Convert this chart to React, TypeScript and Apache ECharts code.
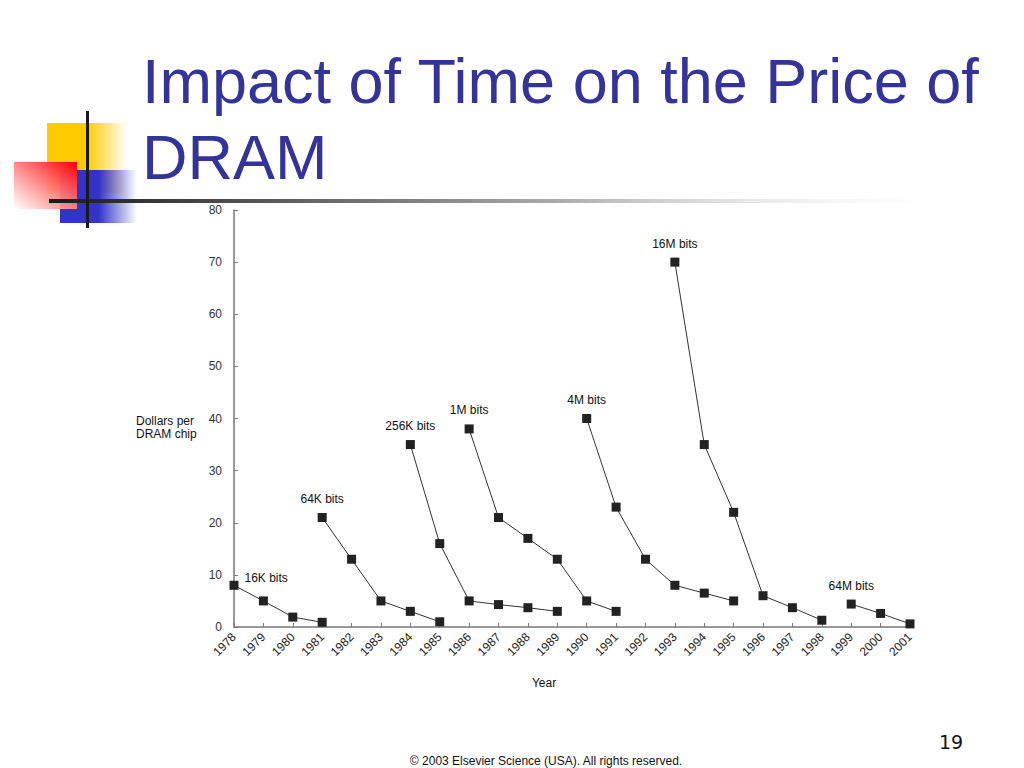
import React, { useEffect, useRef } from "react";
import * as echarts from "echarts";

const years16K = [1978, 1979, 1980, 1981];
const price16K = [8, 5, 1.9, 0.9];
const years64K = [1981, 1982, 1983, 1984, 1985];
const price64K = [21, 13, 5, 3, 1];
const years256K = [1984, 1985, 1986, 1987, 1988, 1989];
const price256K = [35, 16, 5, 4.3, 3.7, 3];
const years1M = [1986, 1987, 1988, 1989, 1990, 1991];
const price1M = [38, 21, 17, 13, 5, 3];
const years4M = [1990, 1991, 1992, 1993, 1994, 1995];
const price4M = [40, 23, 13, 8, 6.5, 5];
const years16M = [1993, 1994, 1995, 1996, 1997, 1998];
const price16M = [70, 35, 22, 6, 3.7, 1.3];
const years64M = [1999, 2000, 2001];
const price64M = [4.4, 2.6, 0.6];

const seriesNames = ["16K bits", "64K bits", "256K bits", "1M bits", "4M bits", "16M bits", "64M bits"];
const seriesYears = [years16K, years64K, years256K, years1M, years4M, years16M, years64M];
const seriesPrices = [price16K, price64K, price256K, price1M, price4M, price16M, price64M];

const titleLines = ["Impact of Time on the Price of", "DRAM"];
const yAxisTitle = "Dollars per\nDRAM chip";
const xAxisTitle = "Year";
const footerText = "© 2003 Elsevier Science (USA). All rights reserved.";
const pageNumber = "19";

const chartFont = "Liberation Sans";

export default function App() {
  const ref = useRef<HTMLDivElement>(null);
  useEffect(() => {
    if (!ref.current) return;
    const chart = echarts.init(ref.current, null, { renderer: "svg" });
    const series = seriesNames.map((name, i) => ({
      name,
      type: "line",
      data: seriesYears[i].map((y, j) => {
        const item: any = { value: [y, seriesPrices[i][j]] };
        if (j === 0) {
          item.label = {
            show: true,
            formatter: name,
            position: i === 0 ? "right" : "top",
            distance: i === 0 ? 6 : 8,
            offset: i === 0 ? [0, -7] : [0, 0],
            color: "#111",
            fontSize: 12,
            fontFamily: chartFont,
          };
        }
        return item;
      }),
      symbol: "rect",
      symbolSize: 9,
      itemStyle: { color: "#222" },
      lineStyle: { color: "#333", width: 1 },
      label: { show: false },
      silent: true,
    }));

    chart.setOption({
      animation: false,
      backgroundColor: "#ffffff",
      grid: { left: 234, right: 114, top: 210, bottom: 141, containLabel: false },
      xAxis: {
        type: "value",
        min: 1978,
        max: 2001,
        interval: 1,
        splitLine: { show: false },
        axisLine: { lineStyle: { color: "#777", width: 1.5 } },
        axisTick: { inside: true, length: 4, lineStyle: { color: "#777" } },
        axisLabel: {
          rotate: 45,
          fontSize: 12,
          color: "#1a1a1a",
          fontFamily: chartFont,
          margin: 8,
          formatter: (v: number) => String(v),
        },
      },
      yAxis: {
        type: "value",
        min: 0,
        max: 80,
        interval: 10,
        splitLine: { show: false },
        axisLine: { show: true, lineStyle: { color: "#777", width: 1.5 } },
        axisTick: { show: true, inside: true, length: 4, lineStyle: { color: "#777" } },
        axisLabel: { fontSize: 12, color: "#333", fontFamily: chartFont, margin: 12 },
      },
      series,
      graphic: [
        {
          type: "rect",
          shape: { x: 47, y: 123, width: 80, height: 70 },
          style: {
            fill: new echarts.graphic.LinearGradient(0, 0, 1, 0, [
              { offset: 0, color: "#FFCC00" },
              { offset: 0.5, color: "#FFCC00" },
              { offset: 1, color: "rgba(255,204,0,0)" },
            ]),
          },
          z: 1,
        },
        {
          type: "rect",
          shape: { x: 60, y: 170, width: 77, height: 53 },
          style: {
            fill: new echarts.graphic.LinearGradient(0, 0, 1, 0, [
              { offset: 0, color: "#3333CC" },
              { offset: 0.5, color: "#3333CC" },
              { offset: 1, color: "rgba(51,51,204,0)" },
            ]),
          },
          z: 2,
        },
        {
          type: "rect",
          shape: { x: 14, y: 162, width: 63, height: 47 },
          style: {
            fill: new echarts.graphic.LinearGradient(1, 0, 0, 1, [
              { offset: 0, color: "#FF0000" },
              { offset: 1, color: "rgba(255,255,255,0.9)" },
            ]),
          },
          z: 3,
        },
        {
          type: "rect",
          shape: { x: 49, y: 199, width: 920, height: 4 },
          style: {
            fill: new echarts.graphic.LinearGradient(0, 0, 1, 0, [
              { offset: 0, color: "#1a1a1a" },
              { offset: 0.55, color: "#aaaaaa" },
              { offset: 1, color: "rgba(255,255,255,0)" },
            ]),
          },
          z: 4,
        },
        {
          type: "rect",
          shape: { x: 86, y: 111, width: 3, height: 117 },
          style: { fill: "#1a1a1a" },
          z: 5,
        },
        {
          type: "text",
          x: 142,
          y: 81,
          style: {
            text: titleLines[0],
            fill: "#333399",
            font: "63px 'Liberation Sans'",
            verticalAlign: "middle",
            align: "left",
          },
          z: 6,
        },
        {
          type: "text",
          x: 142,
          y: 157,
          style: {
            text: titleLines[1],
            fill: "#333399",
            font: "63px 'Liberation Sans'",
            verticalAlign: "middle",
            align: "left",
          },
          z: 6,
        },
        {
          type: "text",
          x: 136,
          y: 427,
          style: {
            text: yAxisTitle,
            fill: "#111",
            font: "12px 'Liberation Sans'",
            lineHeight: 13,
            verticalAlign: "middle",
            align: "left",
          },
        },
        {
          type: "text",
          x: 544,
          y: 683,
          style: {
            text: xAxisTitle,
            fill: "#111",
            font: "12px 'Liberation Sans'",
            verticalAlign: "middle",
            align: "center",
          },
        },
        {
          type: "text",
          x: 546,
          y: 761,
          style: {
            text: footerText,
            fill: "#111",
            font: "12px 'Liberation Sans'",
            verticalAlign: "middle",
            align: "center",
          },
        },
        {
          type: "text",
          x: 951,
          y: 742,
          style: {
            text: pageNumber,
            fill: "#111",
            font: "19px 'DejaVu Sans'",
            verticalAlign: "middle",
            align: "center",
          },
        },
      ],
    });
    return () => chart.dispose();
  }, []);
  return (
    <div
      ref={ref}
      style={{ position: "fixed", left: 0, top: 0, width: 1024, height: 768 }}
    />
  );
}
